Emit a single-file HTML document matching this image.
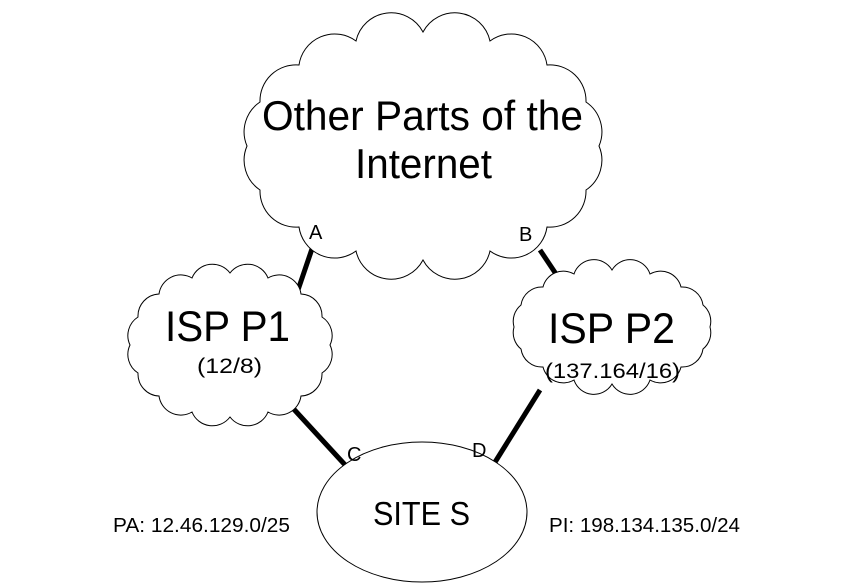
<!DOCTYPE html>
<html><head><meta charset="utf-8"><style>body{margin:0;background:#fff}svg{display:block}text{font-family:"Liberation Sans",Arial,sans-serif;fill:#000}</style></head>
<body>
<svg width="844" height="587" viewBox="0 0 844 587" xmlns="http://www.w3.org/2000/svg">
<g stroke="#000" stroke-width="5" stroke-linecap="butt">
<line x1="315" y1="240" x2="298" y2="290"/>
<line x1="540" y1="250" x2="556" y2="274"/>
<line x1="290" y1="405" x2="347" y2="467"/>
<line x1="540" y1="390" x2="492" y2="467"/>
</g>
<g fill="#fff" stroke="#000" stroke-width="1">
<path d="M599,146 A36,36 0 0 1 586,190 A36,36 0 0 1 547,227 A36,36 0 0 1 490,251 A36,36 0 0 1 423,260 A36,36 0 0 1 356,251 A36,36 0 0 1 299,227 A36,36 0 0 1 260,190 A36,36 0 0 1 247,146 A36,36 0 0 1 260,102 A36,36 0 0 1 299,65 A36,36 0 0 1 356,41 A36,36 0 0 1 423,32 A36,36 0 0 1 490,41 A36,36 0 0 1 547,65 A36,36 0 0 1 586,102 A36,36 0 0 1 599,146 Z"/>
<path d="M330,345 A22,22 0 0 1 322,373 A22,22 0 0 1 301,396 A22,22 0 0 1 268,412 A22,22 0 0 1 230,417 A22,22 0 0 1 192,412 A22,22 0 0 1 159,396 A22,22 0 0 1 138,373 A22,22 0 0 1 130,345 A22,22 0 0 1 138,317 A22,22 0 0 1 159,294 A22,22 0 0 1 192,278 A22,22 0 0 1 230,273 A22,22 0 0 1 268,278 A22,22 0 0 1 301,294 A22,22 0 0 1 322,317 A22,22 0 0 1 330,345 Z"/>
<path d="M710,327 A21,21 0 0 1 703,349 A21,21 0 0 1 681,367 A21,21 0 0 1 650,380 A21,21 0 0 1 612,384 A21,21 0 0 1 574,380 A21,21 0 0 1 543,367 A21,21 0 0 1 521,349 A21,21 0 0 1 514,327 A21,21 0 0 1 521,305 A21,21 0 0 1 543,287 A21,21 0 0 1 574,274 A21,21 0 0 1 612,270 A21,21 0 0 1 650,274 A21,21 0 0 1 681,287 A21,21 0 0 1 703,305 A21,21 0 0 1 710,327 Z"/>
<ellipse cx="422" cy="512" rx="105" ry="70"/>
</g>
<text x="262" y="130" font-size="42" textLength="321" lengthAdjust="spacingAndGlyphs">Other Parts of the</text>
<text x="355" y="178" font-size="42" textLength="137" lengthAdjust="spacingAndGlyphs">Internet</text>
<text x="165" y="341" font-size="43" textLength="125" lengthAdjust="spacingAndGlyphs">ISP P1</text>
<text x="197" y="373" font-size="21" textLength="65" lengthAdjust="spacingAndGlyphs">(12/8)</text>
<text x="548" y="343" font-size="43" textLength="127" lengthAdjust="spacingAndGlyphs">ISP P2</text>
<text x="545" y="378" font-size="21" textLength="135" lengthAdjust="spacingAndGlyphs">(137.164/16)</text>
<text x="373" y="525" font-size="33" textLength="97" lengthAdjust="spacingAndGlyphs">SITE S</text>
<text x="113" y="532" font-size="20" textLength="177" lengthAdjust="spacingAndGlyphs">PA: 12.46.129.0/25</text>
<text x="549" y="532" font-size="20" textLength="191" lengthAdjust="spacingAndGlyphs">PI: 198.134.135.0/24</text>
<text x="309" y="239" font-size="20">A</text>
<text x="519" y="241" font-size="20">B</text>
<text x="347" y="461" font-size="20">C</text>
<text x="472" y="457" font-size="20">D</text>
</svg>
</body></html>
